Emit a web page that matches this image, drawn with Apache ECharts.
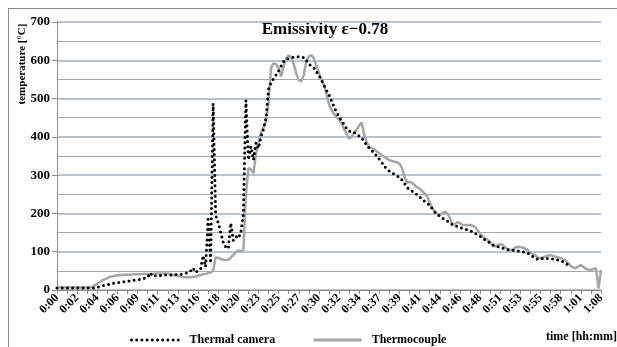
<!DOCTYPE html>
<html>
<head>
<meta charset="utf-8">
<script src="https://cdn.jsdelivr.net/npm/echarts@6/dist/echarts.min.js"></script>
<style>
  html, body { margin: 0; padding: 0; background: #fff; overflow: hidden; }
  #frame { position: absolute; left: 8px; top: 8px; width: 700px; height: 400px; border: 1px solid #8c8c8c; }
  #chart { position: absolute; left: 0; top: 0; width: 617px; height: 347px; }
</style>
</head>
<body>
<div id="frame"></div>
<div id="chart"></div>
<script>
// time labels, one every 8 samples
const tickLabels = ['0:00', '0:02', '0:04', '0:06', '0:09', '0:11', '0:13', '0:16', '0:18', '0:20',
  '0:23', '0:25', '0:27', '0:30', '0:32', '0:34', '0:37', '0:39', '0:41', '0:44',
  '0:46', '0:48', '0:51', '0:53', '0:55', '0:58', '1:01', '1:08'];
const samplesPerLabel = 8;

// temperature [°C], one row per label step
const cameraTemp = [
  5, 5, 5, 5, 5, 5, 5, 5,
  5, 5, 5, 5, 5, 5, 5, 5,
  7, 9, 11, 12, 14, 15, 17, 18,
  19, 20, 21, 22, 23, 24, 25, 26,
  27, 28, 30, 31, 33, 45, 36, 37,
  37, 38, 39, 39, 39, 39, 40, 40,
  41, 41, 42, 44, 45, 50, 58, 46,
  50, 55, 90, 60, 185, 70, 487, 195,
  175, 150, 125, 112, 108, 175, 130, 140,
  135, 150, 200, 495, 340, 375, 340, 385,
  370, 400, 420, 450, 525, 542, 552, 562,
  573, 585, 597, 602, 605, 607, 608, 609,
  609, 609, 607, 600, 590, 585, 580, 570,
  560, 548, 535, 522, 510, 494, 478, 465,
  452, 443, 432, 422, 415, 413, 411, 409,
  402, 397, 388, 378, 370, 364, 358, 349,
  341, 333, 323, 316, 310, 306, 302, 298,
  294, 287, 278, 268, 262, 258, 253, 249,
  243, 237, 231, 227, 221, 212, 204, 197,
  193, 188, 184, 180, 175, 171, 168, 166,
  163, 161, 159, 157, 155, 152, 148, 144,
  140, 136, 131, 128, 122, 118, 115, 113,
  111, 109, 107, 105, 104, 104, 103, 102,
  101, 100, 98, 96, 92, 87, 83, 80,
  81, 83, 83, 82, 82, 81, 80, 78,
  76, 74, 70, 65, null, null, null, null,
  null, null, null, null, null, null, null, null,
  null
];

const thermoTemp = [
  7, 7, 7, 7, 7, 7, 7, 7,
  7, 7, 7, 7, 7, 7, 8, 12,
  17, 21, 25, 28, 31, 34, 36, 37,
  38, 39, 39, 40, 40, 40, 41, 41,
  41, 41, 42, 42, 42, 42, 42, 43,
  43, 43, 43, 43, 43, 42, 40, 38,
  37, 35, 34, 33, 33, 33, 34, 35,
  37, 39, 41, 42, 44, 46, 50, 85,
  84, 81, 79, 78, 79, 84, 92, 99,
  103, 101, 104, 250, 318, 315, 305, 355,
  385, 412, 425, 440, 490, 580, 592, 590,
  580, 558, 585, 605, 613, 608, 590, 565,
  547, 545, 562, 598, 610, 613, 605, 585,
  567, 550, 535, 512, 485, 470, 460, 452,
  445, 435, 420, 408, 395, 400, 412, 418,
  430, 437, 405, 385, 375, 370, 367, 362,
  357, 352, 348, 343, 339, 337, 335, 333,
  330, 318, 295, 280, 283, 279, 274, 268,
  265, 258, 252, 245, 228, 215, 205, 199,
  196, 200, 204, 200, 188, 172, 172, 178,
  174, 170, 170, 170, 170, 168, 165, 155,
  147, 140, 135, 131, 125, 115, 114, 117,
  120, 118, 111, 107, 104, 106, 111, 113,
  112, 111, 108, 104, 98, 93, 90, 85,
  83, 85, 88, 90, 91, 89, 87, 85,
  83, 80, 77, 70, 63, 58, 57, 62,
  65, 60, 56, 53, 52, 55, 57, 4,
  52
];

const serif = "'Liberation Serif', 'Times New Roman', serif";
const categories = thermoTemp.map((_, i) => String(i));

const chart = echarts.init(document.getElementById('chart'));

chart.setOption({
  animation: false,
  backgroundColor: 'transparent',
  grid: { left: 57, right: 16, top: 22, bottom: 57 },
  graphic: [
    {
      type: 'text', x: 325, y: 30,
      style: { text: 'Emissivity ε−0.78', font: 'bold 17px ' + serif, fill: '#000', align: 'center', verticalAlign: 'middle' }
    },
    {
      type: 'text', x: 22, y: 64, rotation: Math.PI / 2,
      style: { text: 'temperature [°C]', font: 'bold 11px ' + serif, fill: '#000', align: 'center', verticalAlign: 'middle' }
    },
    {
      type: 'text', x: 546, y: 337,
      style: { text: 'time [hh:mm]', font: 'bold 12px ' + serif, fill: '#000', verticalAlign: 'middle' }
    }
  ],
  legend: {
    left: 125, top: 329,
    itemWidth: 48, itemHeight: 14, itemGap: 37,
    data: ['Thermal camera', 'Thermocouple'],
    itemStyle: { opacity: 0 },
    lineStyle: { width: 3 },
    textStyle: { fontFamily: serif, fontWeight: 'bold', fontSize: 12, color: '#000', padding: [0, 0, 0, 5] }
  },
  xAxis: {
    type: 'category',
    data: categories,
    boundaryGap: false,
    axisLine: { lineStyle: { color: '#8c8c8c' } },
    axisTick: { length: 4, interval: (i) => i % (samplesPerLabel / 2) === 0, lineStyle: { color: '#8c8c8c' } },
    axisLabel: {
      interval: (i) => i % samplesPerLabel === 0,
      formatter: (v, i) => tickLabels[i / samplesPerLabel],
      rotate: 45, margin: 6,
      fontFamily: serif, fontWeight: 'bold', fontSize: 12, color: '#000'
    },
    splitLine: { show: false }
  },
  yAxis: {
    type: 'value',
    min: 0, max: 700, interval: 100,
    axisLine: { show: true, lineStyle: { color: '#8c8c8c' } },
    axisTick: { show: true, length: 5, lineStyle: { color: '#8c8c8c' } },
    axisLabel: { margin: 7, fontFamily: serif, fontWeight: 'bold', fontSize: 13, color: '#000' },
    splitLine: { lineStyle: { color: '#b4c3da', width: 2 } },
    minorTick: { show: false, splitNumber: 2 },
    minorSplitLine: { show: true, lineStyle: { color: '#a8a8a8', width: 1 } }
  },
  series: [
    {
      name: 'Thermal camera',
      type: 'line',
      data: cameraTemp,
      symbol: 'none',
      z: 3,
      itemStyle: { color: '#000' },
      lineStyle: { color: '#000', width: 3, type: [0, 5.2], cap: 'round' }
    },
    {
      name: 'Thermocouple',
      type: 'line',
      data: thermoTemp,
      symbol: 'none',
      z: 2,
      itemStyle: { color: '#a6a6a6' },
      lineStyle: { color: '#a6a6a6', width: 2.5 }
    }
  ]
});
</script>
</body>
</html>
